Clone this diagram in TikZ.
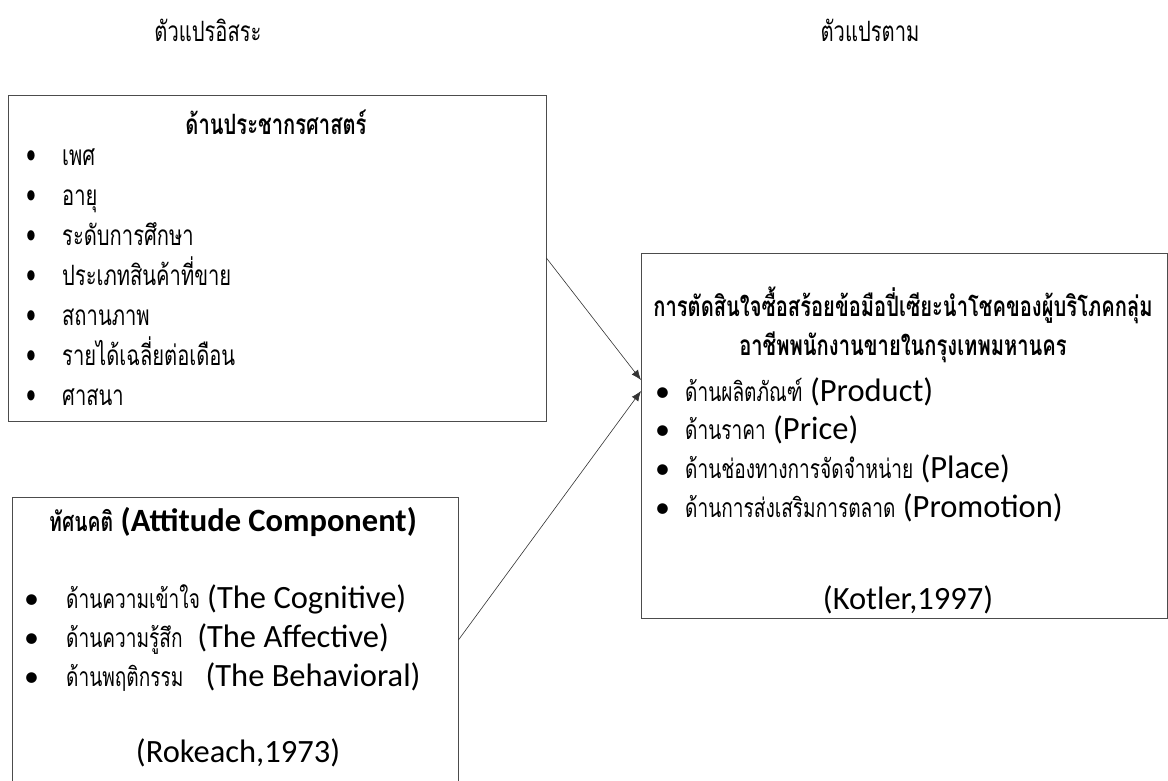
\documentclass[tikz,border=0pt]{standalone}
\usepackage{fontspec}
\setmainfont{Carlito}
\newfontfamily\thai[Script=Thai,FakeStretch=0.72]{Loma}
\usetikzlibrary{arrows.meta,positioning}
\newcommand\tha[1]{{\thai\fontsize{26.5}{28}\selectfont #1}}
\newcommand\bul[1]{\makebox[#1][l]{\fontsize{30}{30}\selectfont\textbullet}}
\begin{document}
\begin{tikzpicture} [
   x=1pt, y=-1pt,
   box/.style={draw=black!70, line width=0.8pt},
   item/.style={anchor=base west, inner sep=0pt, font=\fontsize{32.5}{38}\selectfont},
   head/.style={inner sep=0pt, font=\thai\fontsize{28}{30}\selectfont},
   arr/.style={-{Latex[length=10pt,width=8pt]}, draw=black!80, line width=0.6pt}
]
   \useasboundingbox (0,0) rectangle (1168,780);
   \node (iv) [head] at (208,30) {ตัวแปรอิสระ};
   \node (dv) [head] at (870,30) {ตัวแปรตาม};

   \node (demo) [box, minimum width=538, minimum height=326] at (277,258) {};
   \node (att) [box, minimum width=446, minimum height=286] at (235,640) {};
   \node (dec) [box, minimum width=526, minimum height=365] at (904,435.5) {};

   \node (demot) [head, font=\thai\bfseries\fontsize{28}{30}\selectfont] at (276,122) {ด้านประชากรศาสตร์};
   \foreach \t [count=\i] in {เพศ, อายุ, ระดับการศึกษา, ประเภทสินค้าที่ขาย, สถานภาพ, รายได้เฉลี่ยต่อเดือน, ศาสนา}
      \node (d\i) [item, font=\thai\fontsize{28}{30}\selectfont] at (26,125+40*\i) {\bul{36pt}\t};

   \node (attt) [item, anchor=center, font=\bfseries\fontsize{32.5}{38}\selectfont] at (233,522) {{\thai\fontsize{27}{28}\selectfont ทัศนคติ} (Attitude Component)};
   \node (a1) [item] at (24,608) {\bul{42pt}\tha{ด้านความเข้าใจ} (The Cognitive)};
   \node (a2) [item] at (24,647) {\bul{42pt}\tha{ด้านความรู้สึก}\ \ (The Affective)};
   \node (a3) [item] at (24,686) {\bul{42pt}\tha{ด้านพฤติกรรม}\ \ \ (The Behavioral)};
   \node (aref) [item, anchor=center] at (238,753) {(Rokeach,1973)};

   \node (dect) [head, align=center, font=\thai\bfseries\fontsize{28}{39}\selectfont] at (903,325)
      {การตัดสินใจซื้อสร้อยข้อมือปี่เซียะนำโชคของผู้บริโภคกลุ่ม\\อาชีพพนักงานขายในกรุงเทพมหานคร};
   \node (p1) [item] at (655,401) {\bul{30pt}\tha{ด้านผลิตภัณฑ์} (Product)};
   \node (p2) [item] at (655,439) {\bul{30pt}\tha{ด้านราคา} (Price)};
   \node (p3) [item] at (655,478) {\bul{30pt}\tha{ด้านช่องทางการจัดจำหน่าย} (Place)};
   \node (p4) [item] at (655,517) {\bul{30pt}\tha{ด้านการส่งเสริมการตลาด} (Promotion)};
   \node (pref) [item, anchor=center] at (908,600) {(Kotler,1997)};

   \coordinate (in1) at (641,380);
   \coordinate (in2) at (641,391);
   \draw[arr] (demo.east) -- (in1);
   \draw[arr] (att.east) -- (in2);
\end{tikzpicture}
\end{document}
